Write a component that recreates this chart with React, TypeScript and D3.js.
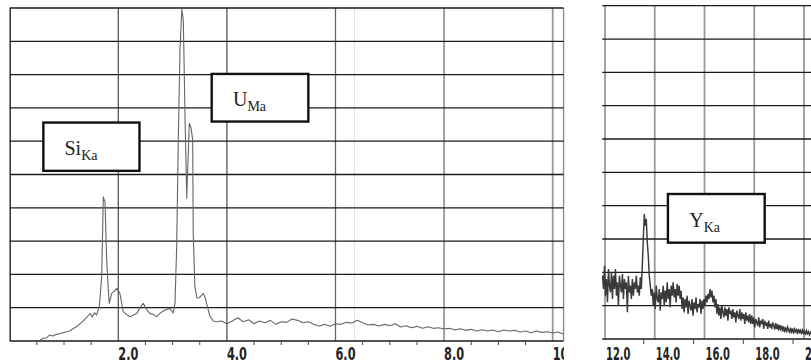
import React from "react";
import * as d3 from "d3";

// ---------- data ----------
const leftEnergy = [
  0.56, 0.62, 0.68, 0.74, 0.8, 0.86, 0.92, 0.98, 1.05, 1.1, 1.16, 1.22, 1.28, 1.34, 1.4, 1.44, 1.48, 1.52, 1.56, 1.6,
  1.65, 1.694, 1.724, 1.755, 1.786, 1.816, 1.834, 1.878, 1.93, 1.97, 2.03, 2.09, 2.15, 2.215, 2.28, 2.34, 2.4, 2.46,
  2.52, 2.58, 2.64, 2.71, 2.78, 2.86, 2.95, 3.01, 3.044, 3.075, 3.105, 3.136, 3.17, 3.197, 3.21, 3.23, 3.26, 3.284,
  3.308, 3.34, 3.37, 3.38, 3.41, 3.45, 3.49, 3.536, 3.565, 3.6, 3.633, 3.69, 3.75, 3.81,
  3.9, 4.0, 4.1, 4.2, 4.3, 4.4, 4.5, 4.6, 4.7, 4.8, 4.9, 5.0, 5.1, 5.2, 5.3, 5.4, 5.5, 5.6, 5.7, 5.8, 5.9, 6.0,
  6.1, 6.2, 6.3, 6.4, 6.5, 6.6, 6.7, 6.8, 6.9, 7.0, 7.1, 7.2, 7.3, 7.4, 7.5, 7.6, 7.7, 7.8, 7.9, 8.0, 8.1, 8.2,
  8.3, 8.4, 8.5, 8.6, 8.7, 8.8, 8.9, 9.0, 9.1, 9.2, 9.3, 9.4, 9.5, 9.6, 9.7, 9.8, 9.9, 10.0, 10.1, 10.2,
];
const leftCounts = [
  0.03, 0.08, 0.1, 0.18, 0.15, 0.2, 0.22, 0.25, 0.28, 0.3, 0.36, 0.42, 0.5, 0.58, 0.68, 0.75, 0.83, 0.72, 0.85, 0.78,
  1.03, 1.93, 4.33, 4.18, 2.43, 1.53, 1.13, 1.43, 1.5, 1.58, 1.43, 0.88, 0.8, 0.73, 0.78, 0.83, 1.0, 1.13,
  0.95, 0.83, 0.8, 0.73, 0.85, 0.93, 0.98, 0.84, 1.13, 2.83, 6.04, 8.74, 9.96, 9.64, 8.5, 6.64, 4.29, 5.44,
  6.54, 6.4, 6.04, 3.23, 1.63, 1.29, 1.3, 1.38, 1.43, 1.3, 1.08, 0.73, 0.6, 0.58,
  0.6, 0.52, 0.6, 0.7, 0.58, 0.64, 0.52, 0.6, 0.55, 0.62, 0.5, 0.58, 0.56, 0.66, 0.62, 0.55, 0.58, 0.5, 0.45, 0.5, 0.44, 0.52,
  0.5, 0.56, 0.54, 0.62, 0.55, 0.48, 0.5, 0.45, 0.5, 0.46, 0.52, 0.42, 0.46, 0.4, 0.44, 0.38, 0.43, 0.38, 0.4, 0.36, 0.38, 0.33,
  0.37, 0.32, 0.35, 0.3, 0.34, 0.3, 0.33, 0.28, 0.33, 0.3, 0.32, 0.27, 0.3, 0.25, 0.3, 0.26, 0.28, 0.24, 0.27, 0.2,
];

const rightStart = 11.9;
const rightStep = 0.04;
const rightCounts = [
  1.9, 1.5, 2.2, 1.3, 1.8, 1.1, 2.1, 1.6, 1.4, 2.0,
  1.2, 1.9, 1.5, 2.1, 1.3, 1.7, 1.0, 1.9, 1.6, 1.4,
  1.95, 1.2, 1.8, 1.5, 1.7, 0.8, 1.9, 1.4, 1.6, 1.2,
  1.8, 1.3, 1.7, 1.5, 1.9, 1.4, 1.6, 1.3, 1.85, 1.5,
  2.2, 3.0, 3.75, 3.4, 3.6, 2.9, 2.5, 1.9, 1.6, 1.3,
  1.5, 1.0, 1.4, 0.9, 1.6, 1.2, 1.1, 1.5, 0.85, 1.4,
  1.2, 1.6, 1.0, 1.45, 1.1, 1.7, 1.2, 1.5, 0.95, 1.6,
  1.3, 1.7, 1.25, 1.5, 1.1,
  1.65, 1.3, 1.6, 1.2, 1.45,
  0.9, 1.25, 0.8, 1.2, 0.95, 1.3, 0.75, 1.15, 1.0, 0.85,
  1.2, 0.7, 1.1, 0.9, 1.25, 0.8, 1.05, 0.95, 1.2, 0.75,
  1.15, 0.9, 1.2, 1.0, 1.3,
  1.1, 1.35, 1.2, 1.5, 1.25, 1.45, 1.1, 1.3, 0.95, 1.2,
  0.75, 1.05, 0.7, 0.95, 0.6, 1.0, 0.8, 0.65, 0.95, 0.7,
  0.9, 0.55, 0.95, 0.75, 0.85, 0.6, 0.9, 0.65, 0.8, 0.5,
  0.85, 0.7, 0.6, 0.9, 0.55, 0.8, 0.6, 0.75, 0.45, 0.8,
  0.55, 0.7, 0.5, 0.75, 0.45,
  0.7, 0.45, 0.65, 0.35, 0.6, 0.5, 0.4, 0.65, 0.35, 0.55,
  0.45, 0.6, 0.3, 0.55, 0.4, 0.5, 0.3, 0.55, 0.35, 0.45,
  0.3, 0.5, 0.4, 0.28, 0.48, 0.3, 0.45, 0.25, 0.42, 0.3,
  0.4, 0.22, 0.38, 0.25, 0.35, 0.2, 0.36, 0.28, 0.18, 0.34,
  0.22, 0.32, 0.16, 0.3, 0.22, 0.28, 0.15, 0.3, 0.2, 0.26,
  0.14, 0.27, 0.18, 0.24, 0.12, 0.25, 0.16, 0.22, 0.12, 0.2, 0.15,
];

const leftGridX = [2, 4, 6, 8, 10];
const leftTickLabels = ["2.0", "4.0", "6.0", "8.0", "10.0"];
const leftMinorTicks = [0.5, 1, 1.5, 2.5, 3, 3.5, 4.5, 5, 5.5, 6.5, 7, 7.5, 8.5, 9, 9.5];
const rightGridX = [12, 14, 16, 18, 20];
const rightTickLabels = ["12.0", "14.0", "16.0", "18.0", "20.0"];
const rightMinorTicks = [13.56, 15.56, 17.56, 19.56];
const gridY = [0, 1, 2, 3, 4, 5, 6, 7, 8, 9, 10];

const peakLabels = [
  { panel: "L", main: "Si", sub: "Ka", x0: 0.62, x1: 2.39, y0: 6.56, y1: 5.11 },
  { panel: "L", main: "U", sub: "Ma", x0: 3.72, x1: 5.5, y0: 8.02, y1: 6.59 },
  { panel: "R", main: "Y", sub: "Ka", x0: 14.53, x1: 18.42, y0: 4.35, y1: 2.89 },
];

function labelWidth(s: string, digit: number) {
  let w = 0;
  for (const ch of s) w += ch === "." ? digit * 0.5 : digit;
  return w;
}

export default function App() {
  const xL = d3.scaleLinear().domain([0, 10.2]).range([9.7, 9.7 + 10.2 * 54.3]);
  const yL = d3.scaleLinear().domain([0, 10]).range([341, 8]);
  const xR = d3.scaleLinear().domain([12, 20]).range([605, 804]);
  const yR = d3.scaleLinear().domain([0, 10]).range([339, 5.7]);

  const leftPts: [number, number][] = leftEnergy.map((e, i) => [xL(e), yL(leftCounts[i])]);
  const rightPts: [number, number][] = rightCounts.map((c, i) => [xR(rightStart + i * rightStep), yR(c)]);
  const line = d3.line();

  const lx0 = xL(0);
  const lx1 = xL(10.2);
  const rx0 = xR(11.89);
  const rx1 = 820;

  const labelFont = "'DejaVu Sans Condensed', 'DejaVu Sans', sans-serif";

  return (
    <svg width={811} height={363} style={{ position: "absolute", left: 0, top: 0, background: "#fff" }}>
      <defs>
        <clipPath id="clipL">
          <rect x={0} y={0} width={lx1 + 0.5} height={363} />
        </clipPath>
      </defs>
      <rect x={0} y={0} width={811} height={363} fill="#fff" />

      {/* ---------- left panel ---------- */}
      <line x1={xL(6.35)} x2={xL(6.35)} y1={yL(10)} y2={yL(0)} stroke="#e4e4e4" strokeWidth={1} />
      {leftGridX.map((v, i) => (
        <line key={"lgx" + v} x1={xL(v)} x2={xL(v)} y1={yL(10)} y2={yL(0)}
          stroke={i < 2 ? "#555" : i === 2 ? "#666" : "#999"} strokeWidth={i < 3 ? 1.3 : 1.8} />
      ))}
      <line x1={lx1} x2={lx1} y1={yL(10)} y2={yL(0)} stroke="#888" strokeWidth={1.3} />
      {gridY.map((v) => (
        <line key={"lgy" + v} x1={lx0} x2={lx1} y1={yL(v)} y2={yL(v)} stroke="#1a1a1a" strokeWidth={1.3} />
      ))}
      <line x1={lx0 + 0.5} x2={lx0 + 0.5} y1={yL(10)} y2={yL(0)} stroke="#222" strokeWidth={1.4} />
      {leftMinorTicks.map((v) => (
        <line key={"lmt" + v} x1={xL(v)} x2={xL(v)} y1={yL(0)} y2={yL(0) + 4} stroke="#444" strokeWidth={1} />
      ))}
      <g clipPath="url(#clipL)">
        {leftGridX.map((v, i) => (
          <text key={"ltl" + v} x={xL(v)} y={360} fontFamily={labelFont} fontWeight="bold" fontSize={18}
            textLength={labelWidth(leftTickLabels[i], 8)} lengthAdjust="spacingAndGlyphs"
            fill="#222">{leftTickLabels[i]}</text>
        ))}
      </g>
      <path d={line(leftPts) || ""} fill="none" stroke="#666" strokeWidth={1.1} strokeLinejoin="round" />

      {/* ---------- right panel ---------- */}
      {rightGridX.map((v) => (
        <line key={"rgx" + v} x1={xR(v)} x2={xR(v)} y1={yR(10)} y2={yR(0)} stroke="#999" strokeWidth={1.8} />
      ))}
      {gridY.map((v) => (
        <line key={"rgy" + v} x1={rx0} x2={rx1} y1={yR(v)} y2={yR(v)} stroke="#1a1a1a" strokeWidth={1.3} />
      ))}
      {rightMinorTicks.map((v) => (
        <line key={"rmt" + v} x1={xR(v)} x2={xR(v)} y1={yR(0)} y2={yR(0) + 5} stroke="#444" strokeWidth={1} />
      ))}
      {rightGridX.map((v, i) => (
        <text key={"rtl" + v} x={xR(v) + 1} y={360} fontFamily={labelFont} fontWeight="bold" fontSize={17}
          textLength={labelWidth(rightTickLabels[i], 7)} lengthAdjust="spacingAndGlyphs"
          fill="#222">{rightTickLabels[i]}</text>
      ))}
      <path d={line(rightPts) || ""} fill="none" stroke="#3a3a3a" strokeWidth={1.45} strokeLinejoin="miter" />

      {/* ---------- peak labels ---------- */}
      {peakLabels.map((p) => {
        const xs = p.panel === "L" ? xL : xR;
        const ys = p.panel === "L" ? yL : yR;
        const x0 = xs(p.x0), x1 = xs(p.x1), y0 = ys(p.y0), y1 = ys(p.y1);
        const w = x1 - x0, h = y1 - y0;
        return (
          <g key={p.main}>
            <rect x={x0} y={y0} width={w} height={h} fill="#fff" stroke="#111" strokeWidth={2.4} />
            <text x={x0 + w * 0.22} y={y0 + h * 0.68} fontFamily="'Liberation Serif', 'Times New Roman', serif"
              fontSize={20} fill="#222">
              {p.main}
              <tspan fontSize={14} dy={5}>{p.sub}</tspan>
            </text>
          </g>
        );
      })}
    </svg>
  );
}
